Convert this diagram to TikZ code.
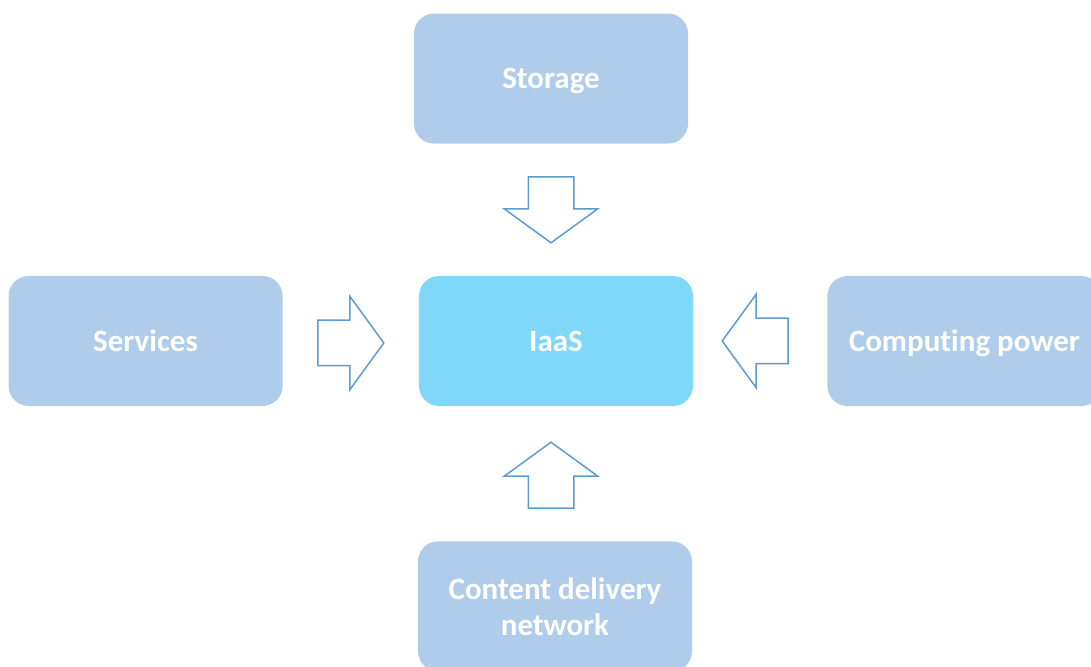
\documentclass[tikz,border=0pt]{standalone}
\usepackage{fontspec}
\setmainfont{Carlito}[Ligatures = NoCommon]
\usetikzlibrary{positioning, shapes.arrows}

\definecolor{boxblue}{HTML}{AFCDEA}
\definecolor{coreblue}{HTML}{7FD8F7}
\definecolor{lineblue}{HTML}{5B9BD5}

\begin{document}
\begin{tikzpicture}[
	box/.style = {rectangle, rounded corners = 20pt, fill = boxblue, text = white, minimum width = 274pt, minimum height = 130pt, align = center, text depth = 0pt, font = \fontsize{31}{36}\selectfont\bfseries},
	blockarrow/.style = {single arrow, draw = lineblue, line width = 1.5pt, fill = white, inner xsep = 0pt, inner ysep = 22pt, outer sep = 0pt, minimum height = 66pt, single arrow head extend = 24pt, single arrow tip angle = 108, anchor = tip}
]

	\useasboundingbox (-556pt, 341pt) rectangle (535pt, -325pt);
	\clip (-556pt, 341pt) rectangle (535pt, -325pt);

	% Boxes
	
	\node [box, fill = coreblue] (iaas) at (0, 0) {IaaS};
	\node [box, above = 132pt of iaas, xshift = -5pt] (storage) {Storage};
	\node [box, left = 136pt of iaas] (services) {Services};
	\node [box, right = 134pt of iaas] (computing) {Computing power};
	\node [box, below = 135pt of iaas, xshift = -1pt] (cdn) {Content delivery\\network};
	
	% Arrows into IaaS
	
	\node [blockarrow, rotate = 270] (fromstorage) at ([yshift = 33pt] iaas.north -| storage.south) {};
	\node [blockarrow] (fromservices) at ([xshift = -35pt, yshift = -2pt] iaas.west) {};
	\node [blockarrow, rotate = 180] (fromcomputing) at ([xshift = 29pt] iaas.east) {};
	\node [blockarrow, rotate = 90] (fromcdn) at ([yshift = -36pt] iaas.south -| storage.south) {};

\end{tikzpicture}
\end{document}
